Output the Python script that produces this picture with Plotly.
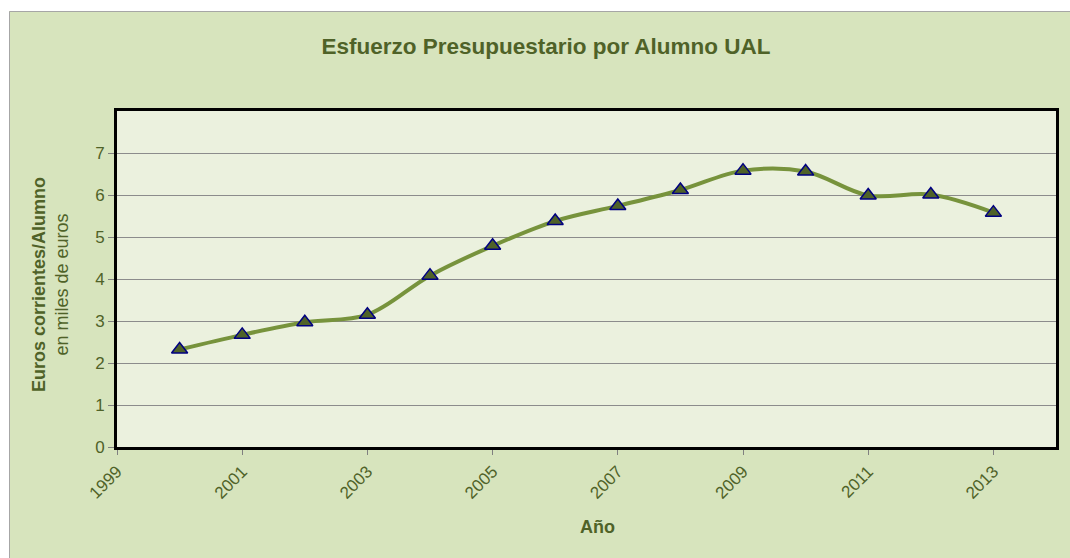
import plotly.graph_objects as go

years = [2000, 2001, 2002, 2003, 2004, 2005, 2006, 2007, 2008, 2009, 2010, 2011, 2012, 2013]
values = [2.32, 2.67, 2.97, 3.15, 4.08, 4.79, 5.38, 5.74, 6.12, 6.58, 6.56, 5.99, 6.01, 5.58]
x_ticks = [1999, 2001, 2003, 2005, 2007, 2009, 2011, 2013]
y_ticks = [0, 1, 2, 3, 4, 5, 6, 7]

title_text = "Esfuerzo Presupuestario por Alumno UAL"
y_title_bold = "Euros corrientes/Alumno"
y_title_sub = "en miles de euros"
x_title = "Año"

W, H = 1070, 558
L, R, T, B = 117, 14, 111, 111
pw = W - L - R
ph = H - T - B

def px_x(p):
    return (p - L) / pw

def px_y(p):
    return (H - B - p) / ph

font_family = "Liberation Sans, Arial, sans-serif"
dark = "#4F6228"

fig = go.Figure()
fig.add_trace(go.Scatter(
    x=years, y=values,
    mode="lines+markers",
    line=dict(shape="spline", smoothing=1.0, color="#77933C", width=4),
    marker=dict(symbol="triangle-up", size=14, color=dark,
                line=dict(color="#000080", width=1.5)),
    hoverinfo="x+y",
))

fig.update_layout(
    width=W, height=H,
    margin=dict(l=L, r=R, t=T, b=B),
    paper_bgcolor="#D7E4BD",
    plot_bgcolor="#EBF1DE",
    showlegend=False,
    font=dict(family=font_family, color=dark),
    title=dict(text="<b>" + title_text + "</b>", xref="container", yref="container",
               x=546 / W, y=1 - 46 / H, xanchor="center", yanchor="middle",
               font=dict(size=22.5, color=dark, family=font_family)),
    xaxis=dict(range=[1999, 2014], tickvals=x_ticks, ticktext=[str(v) for v in x_ticks],
               tickangle=-45, ticks="outside", ticklen=5, tickcolor="#808080", tickwidth=1,
               showline=True, linecolor="black", linewidth=3, mirror=True,
               showgrid=False, zeroline=False,
               tickfont=dict(size=17, color=dark, family=font_family)),
    yaxis=dict(range=[0, 8], tickvals=y_ticks, ticks="outside", ticklen=6,
               tickcolor="#808080", tickwidth=1,
               showline=True, linecolor="black", linewidth=3, mirror=True,
               showgrid=True, gridcolor="#8C8C8C", gridwidth=1, zeroline=False,
               tickfont=dict(size=17, color=dark, family=font_family)),
    shapes=[
        # white strips outside the chart frame (top and left)
        dict(type="rect", xref="paper", yref="paper",
             x0=px_x(-5), x1=px_x(W + 5), y0=px_y(11), y1=px_y(-5),
             fillcolor="white", line=dict(width=0), layer="below"),
        dict(type="rect", xref="paper", yref="paper",
             x0=px_x(-5), x1=px_x(9), y0=px_y(H + 5), y1=px_y(-5),
             fillcolor="white", line=dict(width=0), layer="below"),
        # frame border lines
        dict(type="line", xref="paper", yref="paper",
             x0=px_x(9.5), x1=px_x(W + 5), y0=px_y(11.5), y1=px_y(11.5),
             line=dict(color="#A6A6A6", width=1), layer="below"),
        dict(type="line", xref="paper", yref="paper",
             x0=px_x(9.5), x1=px_x(9.5), y0=px_y(11.5), y1=px_y(H + 5),
             line=dict(color="#A6A6A6", width=1), layer="below"),
        # plot area fill
        dict(type="rect", xref="paper", yref="paper", x0=0, x1=1, y0=0, y1=1,
             fillcolor="#EBF1DE", line=dict(width=0), layer="below"),
    ],
    annotations=[
        dict(text="<b>" + y_title_bold + "</b><br>" + y_title_sub,
             xref="paper", yref="paper", x=px_x(50), y=px_y(285),
             xanchor="center", yanchor="middle", textangle=-90, showarrow=False,
             font=dict(size=18, color=dark, family=font_family)),
        dict(text="<b>" + x_title + "</b>", xref="paper", yref="paper",
             x=px_x(597), y=px_y(527), xanchor="center", yanchor="middle",
             showarrow=False, font=dict(size=18, color=dark, family=font_family)),
    ],
)

fig.write_html("out.html",
               config={"displayModeBar": False},
               post_script="document.body.style.margin='0';document.body.style.overflow='hidden';")
